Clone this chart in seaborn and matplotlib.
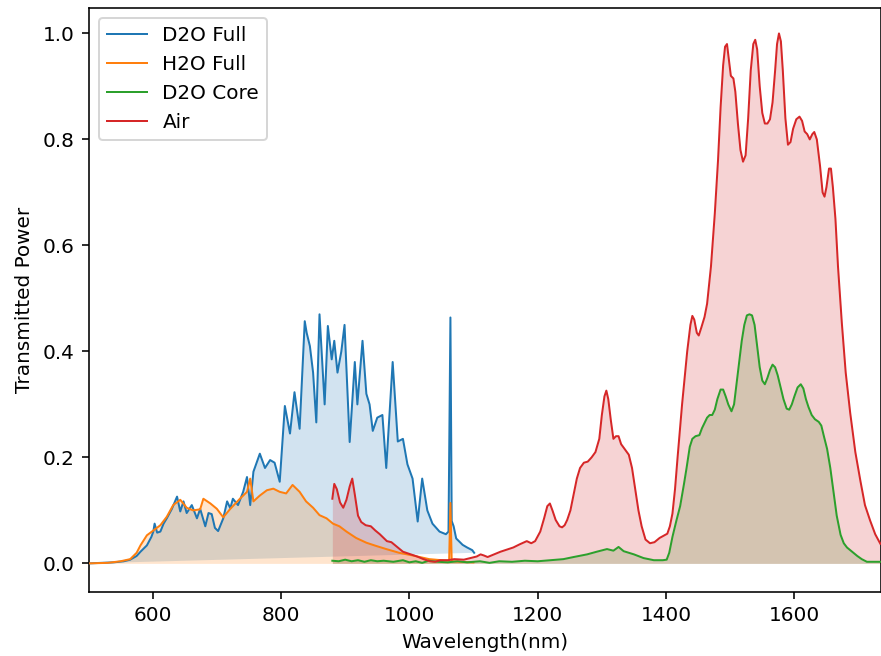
import numpy as np
import pandas as pd
import matplotlib
matplotlib.use("Agg")
import matplotlib.pyplot as plt
import seaborn as sns

# ---- data ----
wl_d2o_full = [500, 520, 540, 555, 565, 575, 581, 591, 598, 601, 603, 607, 612, 617, 622, 630, 638, 643,
               648, 653, 661, 669, 674, 682, 687, 692, 697, 702, 710, 716, 721, 725, 733, 741, 747, 752,
               757, 767, 775, 783, 790, 798, 806, 814, 821, 829, 837, 840, 845, 850, 855, 860, 868, 873,
               879, 883, 888, 894, 899, 907, 915, 919, 927, 933, 938, 943, 950, 958, 964, 974, 982, 990,
               997, 1005, 1013, 1020, 1028, 1036, 1047, 1057, 1061, 1064, 1066, 1069, 1073, 1083, 1090,
               1098, 1101]
p_d2o_full = [0.0, 0.001, 0.002, 0.004, 0.007, 0.014, 0.022, 0.034, 0.05, 0.06, 0.075, 0.058, 0.06, 0.075,
              0.085, 0.103, 0.126, 0.098, 0.117, 0.095, 0.11, 0.085, 0.103, 0.07, 0.095, 0.093, 0.067, 0.061,
              0.085, 0.117, 0.104, 0.122, 0.11, 0.135, 0.163, 0.11, 0.173, 0.207, 0.18, 0.195, 0.19, 0.154,
              0.297, 0.245, 0.323, 0.254, 0.457, 0.435, 0.41, 0.36, 0.266, 0.47, 0.30, 0.448, 0.385, 0.42,
              0.36, 0.40, 0.45, 0.229, 0.38, 0.30, 0.42, 0.32, 0.30, 0.25, 0.275, 0.28, 0.18, 0.38, 0.23,
              0.235, 0.187, 0.16, 0.079, 0.16, 0.10, 0.075, 0.06, 0.055, 0.06, 0.464, 0.08, 0.07, 0.047,
              0.035, 0.03, 0.025, 0.02]

wl_h2o_full = [500, 530, 550, 565, 575, 581, 591, 601, 612, 622, 632, 643, 653, 663, 674, 679, 690, 700,
               710, 721, 736, 747, 752, 757, 767, 778, 788, 798, 808, 818, 829, 839, 850, 860, 871, 881,
               891, 902, 917, 933, 948, 964, 984, 1005, 1031, 1050, 1062, 1064, 1066, 1080, 1100]
p_h2o_full = [0.0, 0.001, 0.004, 0.008, 0.02, 0.034, 0.053, 0.062, 0.072, 0.088, 0.11, 0.12, 0.105, 0.1,
              0.102, 0.122, 0.113, 0.103, 0.087, 0.103, 0.122, 0.135, 0.16, 0.117, 0.128, 0.138, 0.141,
              0.135, 0.132, 0.148, 0.135, 0.117, 0.105, 0.091, 0.085, 0.075, 0.07, 0.06, 0.048, 0.039,
              0.033, 0.027, 0.02, 0.015, 0.008, 0.006, 0.005, 0.114, 0.004, 0.003, 0.002]

wl_d2o_core = [880, 890, 900, 910, 920, 930, 940, 950, 960, 975, 990, 1000, 1010, 1020, 1030, 1045, 1060,
               1075, 1090, 1110, 1125, 1140, 1160, 1180, 1200, 1220, 1240, 1256, 1277, 1292, 1308, 1318,
               1326, 1334, 1350, 1365, 1381, 1395, 1401, 1405, 1410, 1416, 1422, 1428, 1432, 1437, 1441,
               1446, 1452, 1456, 1460, 1464, 1468, 1472, 1476, 1480, 1485, 1489, 1493, 1497, 1502, 1506,
               1510, 1514, 1518, 1522, 1526, 1530, 1534, 1538, 1542, 1546, 1550, 1554, 1558, 1562, 1566,
               1570, 1574, 1578, 1583, 1588, 1592, 1596, 1600, 1605, 1610, 1614, 1618, 1622, 1627, 1632,
               1638, 1642, 1646, 1651, 1656, 1661, 1666, 1672, 1677, 1682, 1690, 1698, 1705, 1713, 1734]
p_d2o_core = [0.005, 0.004, 0.007, 0.004, 0.006, 0.003, 0.006, 0.004, 0.005, 0.003, 0.006, 0.002, 0.004,
              0.001, 0.005, 0.003, 0.002, 0.004, 0.002, 0.004, 0.001, 0.004, 0.003, 0.005, 0.004, 0.006,
              0.008, 0.012, 0.017, 0.022, 0.027, 0.024, 0.031, 0.023, 0.017, 0.01, 0.006, 0.006, 0.007,
              0.02, 0.05, 0.08, 0.108, 0.15, 0.18, 0.22, 0.235, 0.24, 0.242, 0.255, 0.265, 0.275, 0.28,
              0.28, 0.29, 0.31, 0.328, 0.328, 0.315, 0.3, 0.287, 0.3, 0.34, 0.38, 0.42, 0.45, 0.468, 0.47,
              0.468, 0.45, 0.41, 0.37, 0.345, 0.338, 0.35, 0.365, 0.375, 0.37, 0.355, 0.335, 0.31, 0.292,
              0.29, 0.3, 0.315, 0.332, 0.338, 0.33, 0.31, 0.295, 0.28, 0.272, 0.267, 0.26, 0.24, 0.216,
              0.18, 0.135, 0.09, 0.054, 0.038, 0.03, 0.022, 0.014, 0.008, 0.003, 0.003]

wl_air = [880, 883, 887, 892, 897, 902, 907, 911, 915, 920, 925, 932, 940, 947, 954, 960, 965, 972, 980,
          990, 1000, 1012, 1022, 1032, 1040, 1048, 1060, 1070, 1085, 1095, 1105, 1111, 1116, 1122, 1130,
          1142, 1152, 1162, 1172, 1183, 1190, 1196, 1204, 1210, 1215, 1219, 1223, 1228, 1234, 1238, 1242,
          1246, 1251, 1256, 1261, 1266, 1272, 1278, 1284, 1290, 1296, 1300, 1304, 1307, 1310, 1314, 1318,
          1322, 1326, 1330, 1336, 1342, 1347, 1352, 1357, 1362, 1368, 1375, 1382, 1390, 1396, 1402, 1406,
          1410, 1414, 1418, 1425, 1433, 1438, 1441, 1444, 1448, 1451, 1455, 1460, 1464, 1470, 1476, 1481,
          1485, 1489, 1492, 1495, 1498, 1501, 1505, 1508, 1512, 1516, 1520, 1524, 1528, 1532, 1536, 1539,
          1542, 1546, 1550, 1554, 1558, 1562, 1566, 1570, 1573, 1576, 1579, 1582, 1586, 1590, 1594, 1598,
          1603, 1608, 1612, 1616, 1620, 1624, 1628, 1631, 1635, 1640, 1644, 1647, 1650, 1654, 1657, 1660,
          1664, 1668, 1674, 1680, 1687, 1695, 1703, 1710, 1718, 1726, 1734]
p_air = [0.122, 0.15, 0.14, 0.115, 0.105, 0.12, 0.145, 0.16, 0.13, 0.09, 0.078, 0.072, 0.07, 0.062, 0.055,
         0.048, 0.042, 0.04, 0.032, 0.022, 0.018, 0.013, 0.008, 0.004, 0.003, 0.006, 0.006, 0.008, 0.007,
         0.01, 0.013, 0.017, 0.015, 0.012, 0.016, 0.022, 0.026, 0.03, 0.036, 0.042, 0.038, 0.042, 0.06,
         0.085, 0.108, 0.113, 0.1, 0.082, 0.07, 0.068, 0.072, 0.082, 0.1, 0.13, 0.16, 0.18, 0.19, 0.192,
         0.2, 0.21, 0.235, 0.28, 0.315, 0.326, 0.31, 0.27, 0.235, 0.24, 0.24, 0.225, 0.215, 0.205, 0.18,
         0.14, 0.1, 0.07, 0.045, 0.038, 0.04, 0.048, 0.052, 0.056, 0.07, 0.094, 0.14, 0.2, 0.30, 0.4, 0.45,
         0.467, 0.46, 0.435, 0.43, 0.445, 0.465, 0.49, 0.56, 0.66, 0.76, 0.86, 0.94, 0.975, 0.98, 0.95,
         0.92, 0.915, 0.89, 0.83, 0.78, 0.758, 0.77, 0.84, 0.93, 0.98, 0.988, 0.97, 0.9, 0.85, 0.83, 0.83,
         0.838, 0.87, 0.93, 0.98, 1.0, 0.985, 0.93, 0.84, 0.79, 0.795, 0.82, 0.838, 0.843, 0.835, 0.815,
         0.81, 0.8, 0.81, 0.814, 0.8, 0.75, 0.7, 0.692, 0.71, 0.745, 0.745, 0.71, 0.65, 0.56, 0.453, 0.36,
         0.284, 0.21, 0.155, 0.11, 0.081, 0.055, 0.037]

labels = ["D2O Full", "H2O Full", "D2O Core", "Air"]
series = [(wl_d2o_full, p_d2o_full), (wl_h2o_full, p_h2o_full),
          (wl_d2o_core, p_d2o_core), (wl_air, p_air)]

# ---- plot ----
dpi = 144
fig = plt.figure(figsize=(881 / dpi, 656 / dpi), dpi=dpi)
ax = fig.add_axes([88.5 / 881, 1 - 592 / 656, (881 - 88.5) / 881, (592 - 8) / 656])

colors = sns.color_palette("tab10", 4)
for i, ((x, y), lab) in enumerate(zip(series, labels)):
    df = pd.DataFrame({"Wavelength": x, "Power": y})
    sns.lineplot(data=df, x="Wavelength", y="Power", ax=ax, color=colors[i], label=lab,
                 linewidth=1.0, zorder=3)
    if i == 0:
        ax.fill(x, y, color=colors[i], alpha=0.2, linewidth=0, zorder=1)
    else:
        ax.fill_between(x, y, color=colors[i], alpha=0.2, linewidth=0, zorder=1)

ax.set_xlim(500, 1735)
ax.set_ylim(-0.054, 1.048)
ax.set_xlabel("Wavelength(nm)")
ax.set_ylabel("Transmitted Power")
ax.legend(loc="upper left")

fig.savefig("out.png", dpi=dpi)
